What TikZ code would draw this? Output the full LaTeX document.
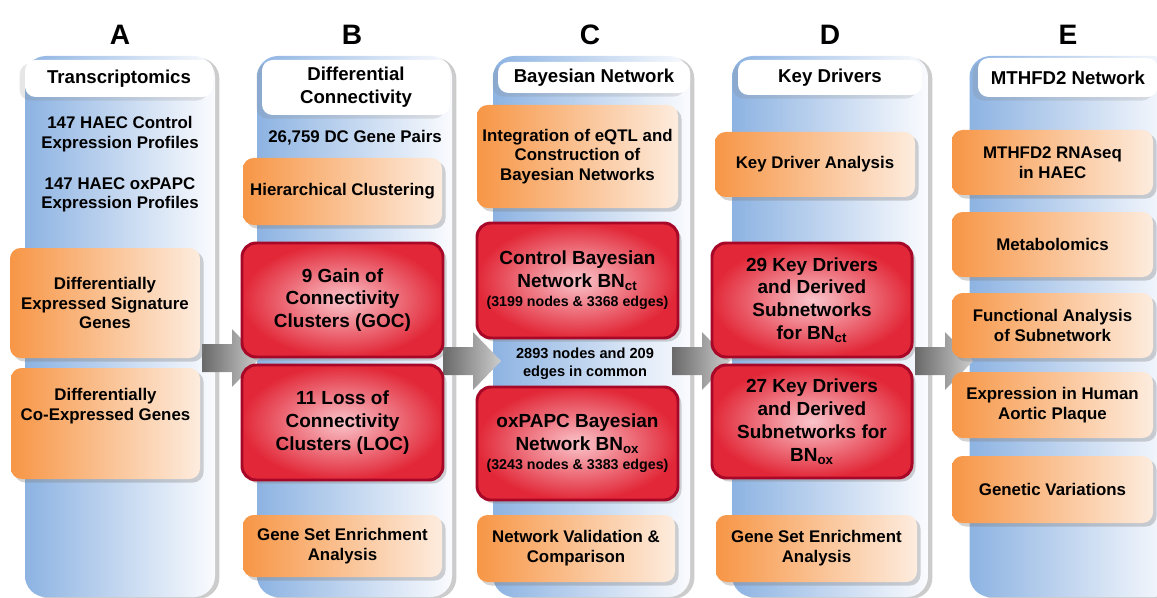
\documentclass[tikz,border=0pt]{standalone}
\usepackage{fontspec}
\setmainfont{Liberation Sans}
\usetikzlibrary{shadows, positioning}

\definecolor{colblue}{RGB}{141,179,226}
\definecolor{colwhite}{RGB}{250,251,254}
\definecolor{orgdark}{RGB}{247,150,70}
\definecolor{orglight}{RGB}{253,236,222}
\definecolor{redin}{RGB}{250,196,202}
\definecolor{redout}{RGB}{226,40,56}
\definecolor{redline}{RGB}{168,8,40}
\definecolor{arrdark}{RGB}{105,105,105}
\definecolor{arrlight}{RGB}{205,205,205}

\tikzset{
  sz/.style 2 args={minimum width=#1*0.02cm, minimum height=#2*0.02cm, inner sep=0pt},
  column/.style={rounded corners=12pt, left color=colblue, right color=colwhite,
    drop shadow={shadow xshift=2.5pt, shadow yshift=-1pt, opacity=0.4}},
  header/.style={rounded corners=6pt, fill=white, align=center,
    font=\fontsize{10.6}{13}\selectfont\bfseries,
    drop shadow={shadow xshift=-3pt, shadow yshift=-2pt, opacity=0.2}},
  obox/.style={rounded corners=6pt, left color=orgdark, right color=orglight, align=center,
    font=\fontsize{9.6}{11.3}\selectfont\bfseries,
    drop shadow={shadow xshift=2pt, shadow yshift=-2pt, opacity=0.35}},
  rbox/.style={rounded corners=8pt, draw=redline, line width=1.7pt, inner color=redin,
    outer color=redout, align=center, font=\fontsize{10.8}{13}\selectfont\bfseries,
    drop shadow={shadow xshift=2pt, shadow yshift=-2pt, opacity=0.35}},
  plain/.style={align=center, font=\fontsize{9.6}{11}\selectfont\bfseries},
  letter/.style={font=\fontsize{16}{19}\selectfont\bfseries},
  bigarrow/.style={left color=arrdark, right color=arrlight},
}

\begin{document}
\begin{tikzpicture}[x=0.02cm, y=-0.02cm]
  \useasboundingbox (0,0) rectangle (1157,598);
  \clip (0,0) rectangle (1157,598);

  % step letters
  \foreach \l/\x in {A/120,B/352,C/590,D/830,E/1068} {
    \node[letter] (lt\l) at (\x,35) {\l};
  }

  % columns
  \foreach \n/\x/\w in {A/120/190, B/354.5/195, C/591.5/197, D/830/196, E/1072/205} {
    \node[column, sz={\w}{541}] (col\n) at (\x,326.5) {};
  }

  % block arrows between columns (shaft 30, head 28)
  \foreach \x/\y in {202/358, 443/361, 672/361, 915/361} {
    \shade[bigarrow] (\x,\y-14) -- ++(30,0) -- ++(0,-15) -- ++(28,29)
      -- ++(-28,29) -- ++(0,-15) -- ++(-30,0) -- cycle;
  }

  % A: transcriptomics
  \node[header, sz={188}{37}] (hdA) at (119,78.5) {Transcriptomics};
  \node[plain] (prA1) at (120,134) {147 HAEC Control\\Expression Profiles};
  \node[plain] (prA2) at (120,195) {147 HAEC oxPAPC\\Expression Profiles};
  \node[obox, sz={190}{110}] (degA) at (105,303) {Differentially\\Expressed Signature\\Genes};
  \node[obox, sz={189}{111}] (dceA) at (105.5,423.5) {Differentially\\Co-Expressed Genes\\[10pt]};

  % B: differential connectivity
  \node[header, sz={188}{55}] (hdB) at (356,87.5) {Differential\\Connectivity};
  \node[plain] (dcB) at (355,138) {26,759 DC Gene Pairs};
  \node[obox, sz={199}{67}] (hcB) at (342.5,191.5) {Hierarchical Clustering};
  \node[rbox, sz={201}{114}] (gocB) at (342.5,300) {9 Gain of\\Connectivity\\Clusters (GOC)};
  \node[rbox, sz={201}{115}] (locB) at (342.5,422.5) {11 Loss of\\Connectivity\\Clusters (LOC)};
  \node[obox, sz={199}{62}] (gseB) at (342.5,546) {Gene Set Enrichment\\Analysis};

  % C: bayesian network
  \node[header, sz={192}{31}] (hdC) at (594,77.5) {Bayesian Network};
  \node[obox, sz={201}{103}] (intC) at (577.5,156.5) {Integration of eQTL and\\Construction of\\Bayesian Networks};
  \node[rbox, sz={201}{115}] (ctC) at (577.5,280.5)
    {Control Bayesian\\Network BN\textsubscript{ct}\\[-2pt]{\fontsize{8.1}{9}\selectfont(3199 nodes \& 3368 edges)}};
  \node[plain, font=\fontsize{8.3}{10.2}\selectfont\bfseries] (cmC) at (585,364) {2893 nodes and 209\\edges in common};
  \node[rbox, sz={201}{113}] (oxC) at (577.5,443.5)
    {oxPAPC Bayesian\\Network BN\textsubscript{ox}\\[-2pt]{\fontsize{8.1}{9}\selectfont(3243 nodes \& 3383 edges)}};
  \node[obox, sz={198}{67}] (valC) at (576,548.5) {Network Validation \&\\Comparison};

  % D: key drivers
  \node[header, sz={184}{35}] (hdD) at (830,77.5) {Key Drivers};
  \node[obox, sz={200}{65}] (kdaD) at (815,164.5) {Key Driver Analysis};
  \node[rbox, sz={200}{114}] (ctD) at (812,300) {29 Key Drivers\\and Derived\\Subnetworks\\for BN\textsubscript{ct}};
  \node[rbox, sz={200}{113}] (oxD) at (812,421.5) {27 Key Drivers\\and Derived\\Subnetworks for\\BN\textsubscript{ox}};
  \node[obox, sz={201}{67}] (gseD) at (816.5,548.5) {Gene Set Enrichment\\Analysis};

  % E: MTHFD2 network
  \node[header, sz={180}{39}] (hdE) at (1068,77.5) {MTHFD2 Network};
  \node[obox, sz={201}{65}] (rnaE) at (1052.5,162.5) {MTHFD2 RNAseq\\in HAEC};
  \node[obox, sz={201}{65}] (metE) at (1052.5,244.5) {Metabolomics};
  \node[obox, sz={201}{65}] (funE) at (1052.5,325.5) {Functional Analysis\\of Subnetwork};
  \node[obox, sz={201}{66}] (expE) at (1052.5,405) {Expression in Human\\Aortic Plaque};
  \node[obox, sz={201}{67}] (genE) at (1052.5,489.5) {Genetic Variations};
\end{tikzpicture}
\end{document}
